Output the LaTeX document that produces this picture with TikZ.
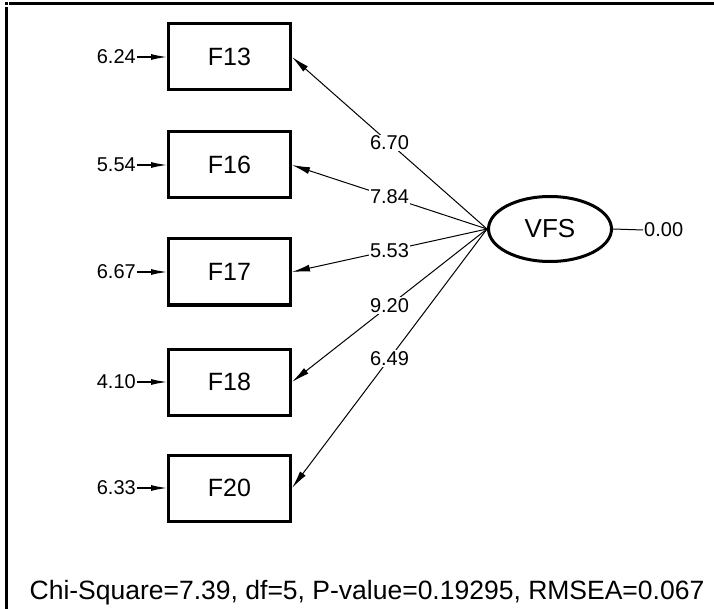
\documentclass[tikz,border=0pt]{standalone}
\usepackage{fontspec}
\setmainfont{Liberation Sans}
\usetikzlibrary{arrows.meta,shapes.geometric}

\tikzset{
  obsbox/.style={draw=black, line width=3pt, rectangle, minimum width=122pt,
    minimum height=66pt, inner sep=0pt, font=\fontsize{25}{29}\selectfont},
  latentvar/.style={draw=black, line width=3pt, ellipse, minimum width=123pt,
    minimum height=65pt, inner sep=0pt, font=\fontsize{26}{30}\selectfont},
  errlabel/.style={inner sep=1pt, font=\fontsize{20}{24}\selectfont},
  loadline/.style={line width=1pt, -{Latex[length=18pt,width=7pt]}},
  errline/.style={line width=1.2pt, -{Latex[length=16pt,width=6pt]}},
  loadlabel/.style={fill=white, inner sep=1pt, font=\fontsize{20}{24}\selectfont},
}

\begin{document}
\begin{tikzpicture}[x=1pt, y=-1pt]
  % page area
  \useasboundingbox (0,0) rectangle (714,609);
  \fill[white] (0,0) rectangle (714,609);

  % frame at the top and left edge
  \fill[black] (5,2) rectangle (8,5);
  \fill[black] (9,2) rectangle (714,5);
  \fill[black] (5,7) rectangle (8,609);

  % observed variables
  \node[obsbox] (F13) at (229.5,57)  {F13};
  \node[obsbox] (F16) at (229.5,165) {F16};
  \node[obsbox] (F17) at (229.5,272) {F17};
  \node[obsbox] (F18) at (229.5,382) {F18};
  \node[obsbox] (F20) at (229.5,488) {F20};

  % latent variable
  \node[latentvar] (VFS) at (550,229) {VFS};

  % error variances
  \node[errlabel, anchor=east] (e13) at (137,57)  {6.24};
  \node[errlabel, anchor=east] (e16) at (137,165) {5.54};
  \node[errlabel, anchor=east] (e17) at (137,272) {6.67};
  \node[errlabel, anchor=east] (e18) at (137,382) {4.10};
  \node[errlabel, anchor=east] (e20) at (137,488) {6.33};
  \foreach \v in {13,16,17,18,20}
    \draw[errline] (e\v.east) -- (F\v.west);

  % latent variance
  \node[errlabel, anchor=west] (vv) at (643,230) {0.00};
  \draw[line width=1pt] (VFS.east) -- (vv.west);

  % loadings
  \draw[loadline] (VFS.west) -- node[loadlabel, pos=0.5] {6.70} (F13.east);
  \draw[loadline] (VFS.west) -- node[loadlabel, pos=0.5] {7.84} (F16.east);
  \draw[loadline] (VFS.west) -- node[loadlabel, pos=0.5] {5.53} (F17.east);
  \draw[loadline] (VFS.west) -- node[loadlabel, pos=0.5] {9.20} (F18.east);
  \draw[loadline] (VFS.west) -- node[loadlabel, pos=0.5] {6.49} (F20.east);

  % fit statistics
  \node[font=\fontsize{26.5}{30}\selectfont] (fit) at (367,593)
    {Chi-Square=7.39, df=5, P-value=0.19295, RMSEA=0.067};
\end{tikzpicture}
\end{document}
